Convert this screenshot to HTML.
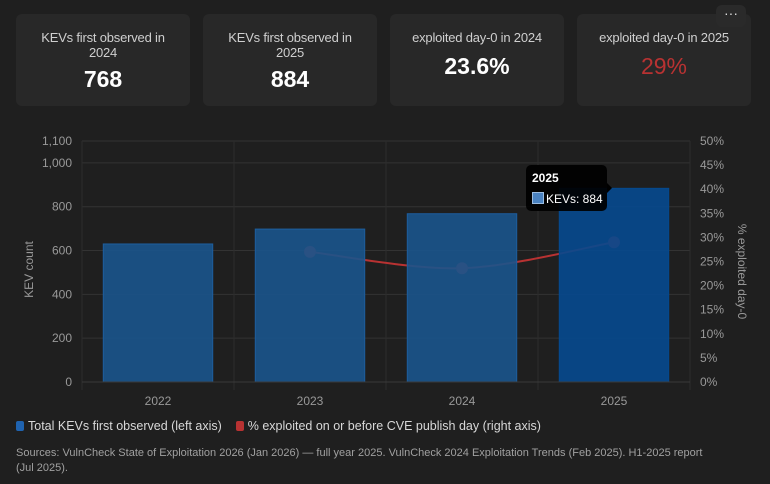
<!DOCTYPE html>
<html><head><meta charset="utf-8"><style>
body{margin:0;width:770px;height:484px;background:#1f1f1f;font-family:"Liberation Sans",sans-serif;overflow:hidden;position:relative}
.card{position:absolute;top:14px;width:174px;height:92px;background:#282828;border-radius:6px;text-align:center;color:#cfcfcf}
.card .t{font-size:13px;line-height:15px;margin-top:16px;letter-spacing:-0.2px}
.card .v{font-size:23px;font-weight:bold;color:#fff;margin-top:6px}
.legend{position:absolute;top:419px;left:16px;font-size:12.5px;color:#d8d8d8}
.legend span.sw{display:inline-block;width:8px;height:10px;border-radius:2px;margin-right:4px;vertical-align:-1px}
.src{position:absolute;top:446px;left:16px;width:705px;font-size:11px;line-height:15px;color:#a0a0a0}
</style></head><body>
<div class="card" style="left:16px"><div class="t">KEVs first observed in<br>2024</div><div class="v">768</div></div>
<div class="card" style="left:203px"><div class="t">KEVs first observed in<br>2025</div><div class="v">884</div></div>
<div class="card" style="left:390px"><div class="t">exploited day-0 in 2024</div><div class="v" style="margin-top:8px">23.6%</div></div>
<div class="card" style="left:577px"><div class="t">exploited day-0 in 2025</div><div class="v" style="margin-top:8px;color:#b83232;font-weight:normal">29%</div></div>
<div style="position:absolute;left:716px;top:5px;width:30px;height:22px;background:#2a2a2a;border-radius:6px;color:#ddd;font-size:14px;text-align:center;line-height:16px">···</div>
<svg id="chart" width="770" height="484" style="position:absolute;left:0;top:0"></svg>
<div class="legend"><span><span class="sw" style="background:#1f63b0"></span>Total KEVs first observed (left axis)</span>&nbsp;&nbsp;&nbsp;&nbsp;<span><span class="sw" style="background:#b83232"></span>% exploited on or before CVE publish day (right axis)</span></div>
<div class="src">Sources: VulnCheck State of Exploitation 2026 (Jan 2026) — full year 2025. VulnCheck 2024 Exploitation Trends (Feb 2025). H1-2025 report (Jul 2025).</div>
<script>
const categories=["2022","2023","2024","2025"];
const kevValues=[630,698,768,884];
const day0Values=[null,27,23.6,29];
const leftTicks=[0,200,400,600,800,1000,1100];
const rightTicks=[0,5,10,15,20,25,30,35,40,45,50];
const NS="http://www.w3.org/2000/svg";
const svg=document.getElementById('chart');
const L=82,R=690,T=141,B=382;
const yL=v=>B-(v/1100)*(B-T);
const yR=v=>B-(v/50)*(B-T);
const bw=(R-L)/categories.length;
const xC=i=>L+bw*(i+0.5);
function mk(tag,a){const e=document.createElementNS(NS,tag);for(const k in a)e.setAttribute(k,a[k]);svg.appendChild(e);return e;}
leftTicks.forEach(v=>{
  const g=mk('line',{x1:L,x2:R,y1:yL(v),y2:yL(v),stroke:'#333',"stroke-width":1});
  
  
  const t=mk('text',{x:L-10,y:yL(v)+4,"text-anchor":"end",fill:'#999',"font-size":12,"font-family":"Liberation Sans"});
  t.textContent=v.toLocaleString('en-US');
  
  
});
rightTicks.forEach(v=>{
  const t=mk('text',{x:R+10,y:yR(v)+4,fill:'#999',"font-size":12,"font-family":"Liberation Sans"});
  t.textContent=v+'%';
  
  
});
for(let i=0;i<=categories.length;i++){
  const x=L+bw*i;
  const g=mk('line',{x1:x,x2:x,y1:T,y2:B+8,stroke:'#2c2c2c',"stroke-width":1});
  
  
}
const pts=[];day0Values.forEach((v,i)=>{if(v!=null)pts.push([xC(i),yR(v)]);});
let d='M'+pts[0][0]+','+pts[0][1];
for(let i=0;i<pts.length-1;i++){
  const p0=pts[Math.max(0,i-1)],p1=pts[i],p2=pts[i+1],p3=pts[Math.min(pts.length-1,i+2)];
  const c1=[p1[0]+(p2[0]-p0[0])/6,p1[1]+(p2[1]-p0[1])/6],c2=[p2[0]-(p3[0]-p1[0])/6,p2[1]-(p3[1]-p1[1])/6];
  d+=` C${c1[0]},${c1[1]} ${c2[0]},${c2[1]} ${p2[0]},${p2[1]}`;
}
const ln=mk('path',{d:d,fill:'none',stroke:'#b83232',"stroke-width":2});


pts.forEach(p=>{
  const c=mk('circle',{cx:p[0],cy:p[1],r:6,fill:'#b83232'});
  
  
});
kevValues.forEach((v,i)=>{
  const w=bw*0.72;
  const r=mk('rect',{x:xC(i)-w/2,y:yL(v),width:w,height:B-yL(v),fill:i===3?'#05498f':'#1a548c',"fill-opacity":0.9,stroke:i===3?'#05498f':'#1d5e9e'});
  
  
  const t=mk('text',{x:xC(i),y:B+23,"text-anchor":"middle",fill:'#999',"font-size":12,"font-family":"Liberation Sans"});
  t.textContent=categories[i];
  
  
});
const al=mk('line',{x1:L,x2:R,y1:B,y2:B,stroke:'#3a3a3a'});


const yt=mk('text',{x:0,y:0,transform:`translate(33,${(T+B)/2+8}) rotate(-90)`,"text-anchor":"middle",fill:'#999',"font-size":12,"font-family":"Liberation Sans"});
yt.textContent='KEV count';


const yt2=mk('text',{x:0,y:0,transform:`translate(738,${(T+B)/2+10}) rotate(90)`,"text-anchor":"middle",fill:'#999',"font-size":12,"font-family":"Liberation Sans"});
yt2.textContent='% exploited day-0';


const tg=mk('g',{});


const tb=mk('rect',{x:526,y:165,width:81,height:46,rx:5,fill:'#000',"fill-opacity":0.92});


const ta=mk('path',{d:'M607,183 L612,188 L607,193 Z',fill:'#000'});


const t1=mk('text',{x:532,y:182,fill:'#fff',"font-size":12,"font-weight":"bold","font-family":"Liberation Sans"});
t1.textContent='2025';


const sw=mk('rect',{x:532.5,y:192.5,width:11,height:11,fill:'#4a82c0',stroke:'#9bbce0'});


const t2=mk('text',{x:546,y:203,fill:'#fff',"font-size":12,"font-family":"Liberation Sans"});
t2.textContent='KEVs: '+kevValues[3];


</script>
</body></html>
